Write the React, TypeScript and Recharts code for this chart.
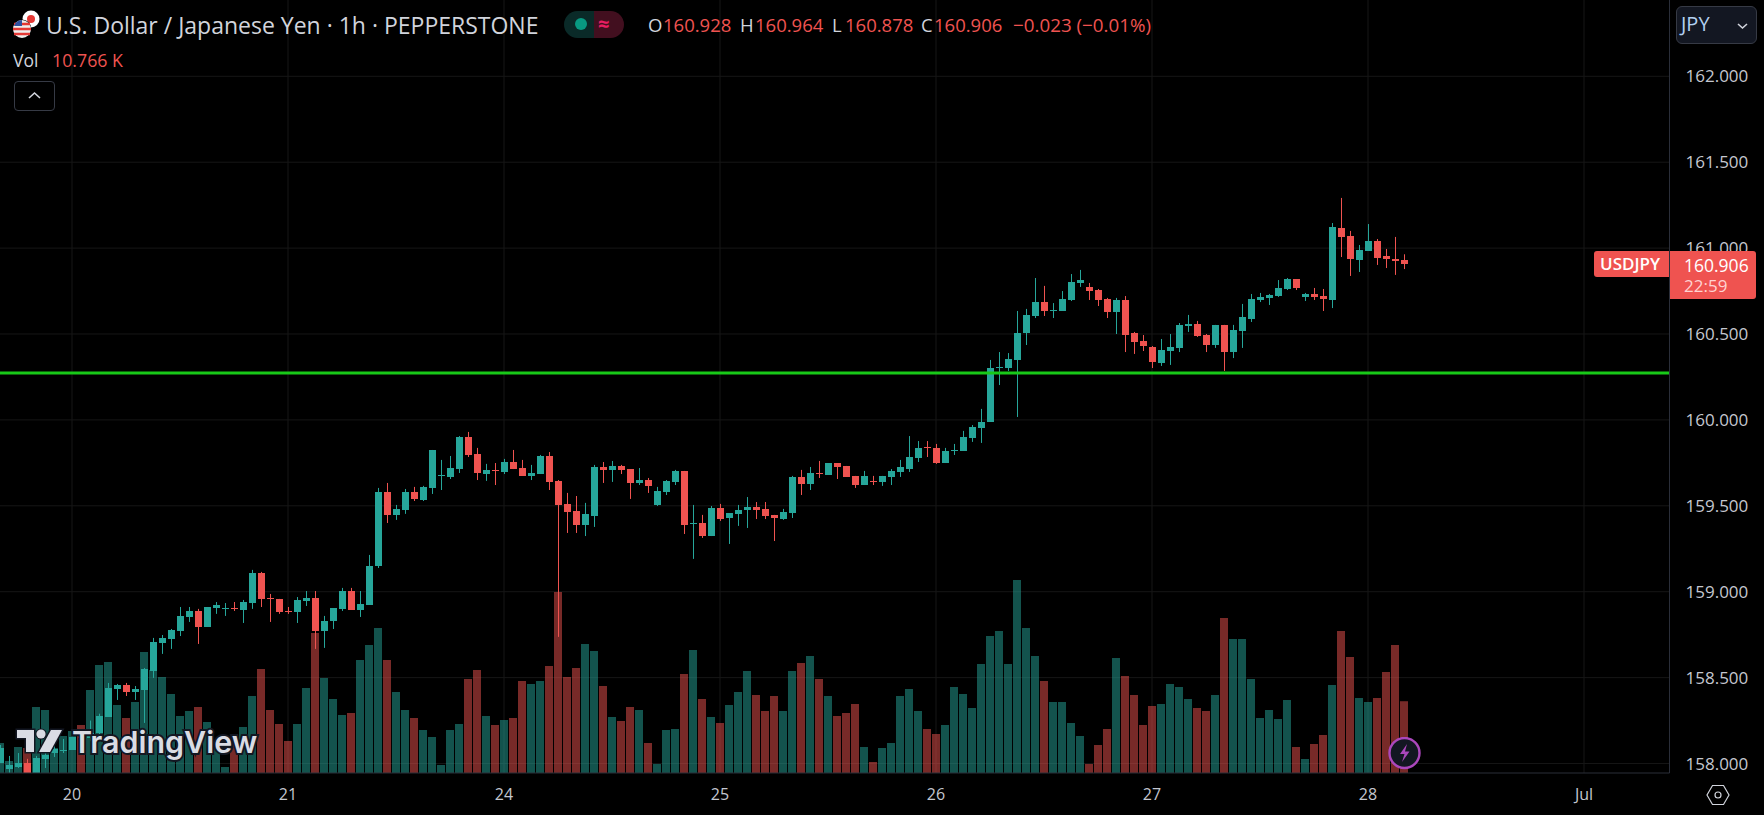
import { Bar, CartesianGrid, ComposedChart, ReferenceLine, XAxis, YAxis } from "recharts";

const opens = [
  158.003, 157.968, 157.98, 158.003, 157.945, 158.027, 158.061, 158.076,
  158.079, 158.175, 158.15, 158.178, 158.271, 158.434, 158.457, 158.417,
  158.428, 158.539, 158.702, 158.725, 158.772, 158.853, 158.888, 158.795,
  158.905, 158.904, 158.906, 158.894, 158.934, 159.109, 158.964, 158.958,
  158.888, 158.882, 158.946, 158.964, 158.772, 158.83, 158.9, 159.004,
  158.894, 158.923, 159.15, 159.581, 159.447, 159.476, 159.581, 159.534,
  159.604, 159.678, 159.668, 159.714, 159.901, 159.802, 159.685, 159.708,
  159.697, 159.755, 159.72, 159.674, 159.685, 159.79, 159.645, 159.511,
  159.47, 159.389, 159.441, 159.726, 159.709, 159.732, 159.714, 159.633,
  159.65, 159.505, 159.581, 159.639, 159.703, 159.398, 159.4, 159.324,
  159.487, 159.429, 159.453, 159.476, 159.493, 159.482, 159.447, 159.423,
  159.458, 159.668, 159.627, 159.691, 159.68, 159.749, 159.732, 159.674,
  159.621, 159.647, 159.639, 159.668, 159.697, 159.714, 159.778, 159.843,
  159.837, 159.749, 159.823, 159.819, 159.895, 159.953, 159.988, 160.305,
  160.302, 160.349, 160.506, 160.605, 160.686, 160.637, 160.634, 160.698,
  160.797, 160.774, 160.756, 160.704, 160.628, 160.698, 160.506, 160.459,
  160.425, 160.331, 160.401, 160.419, 160.547, 160.558, 160.494, 160.436,
  160.553, 160.395, 160.518, 160.587, 160.698, 160.71, 160.721, 160.762,
  160.82, 160.716, 160.733, 160.721, 160.698, 161.117, 161.07, 160.931,
  160.983, 161.041, 160.954, 160.937, 160.928,
];

const highs = [
  158.108, 158.044, 158.061, 158.027, 158.044, 158.061, 158.108, 158.143,
  158.155, 158.2, 158.25, 158.29, 158.469, 158.463, 158.469, 158.451,
  158.556, 158.731, 158.748, 158.783, 158.911, 158.911, 158.9, 158.911,
  158.94, 158.934, 158.94, 158.952, 159.127, 159.115, 158.987, 158.958,
  158.911, 158.969, 159.004, 159.004, 158.859, 158.905, 159.022, 159.022,
  159.004, 159.214, 159.604, 159.633, 159.505, 159.598, 159.61, 159.616,
  159.825, 159.767, 159.79, 159.906, 159.93, 159.837, 159.744, 159.749,
  159.773, 159.825, 159.767, 159.738, 159.796, 159.813, 159.65, 159.575,
  159.557, 159.517, 159.738, 159.755, 159.761, 159.738, 159.714, 159.72,
  159.662, 159.61, 159.65, 159.709, 159.703, 159.505, 159.447, 159.499,
  159.511, 159.458, 159.505, 159.551, 159.522, 159.522, 159.447, 159.482,
  159.674, 159.709, 159.726, 159.761, 159.749, 159.749, 159.732, 159.674,
  159.703, 159.674, 159.674, 159.714, 159.767, 159.906, 159.877, 159.877,
  159.86, 159.837, 159.86, 159.936, 159.97, 160.064, 160.349, 160.395,
  160.389, 160.634, 160.646, 160.826, 160.78, 160.68, 160.75, 160.849,
  160.873, 160.797, 160.762, 160.71, 160.71, 160.721, 160.512, 160.494,
  160.43, 160.471, 160.5, 160.564, 160.611, 160.576, 160.5, 160.553,
  160.553, 160.553, 160.675, 160.733, 160.739, 160.733, 160.814, 160.826,
  160.82, 160.739, 160.768, 160.762, 161.146, 161.292, 161.1, 161.018,
  161.14, 161.053, 160.995, 161.065, 160.964,
];

const lows = [
  158.003, 157.945, 157.974, 157.945, 157.945, 157.974, 158.038, 158.061,
  158.079, 158.13, 158.13, 158.16, 158.271, 158.37, 158.393, 158.37,
  158.236, 158.498, 158.638, 158.667, 158.742, 158.824, 158.696, 158.795,
  158.871, 158.859, 158.888, 158.818, 158.9, 158.911, 158.824, 158.871,
  158.871, 158.818, 158.917, 158.667, 158.673, 158.783, 158.888, 158.894,
  158.853, 158.923, 159.138, 159.4, 159.418, 159.453, 159.528, 159.528,
  159.569, 159.592, 159.656, 159.691, 159.784, 159.65, 159.645, 159.621,
  159.685, 159.714, 159.674, 159.65, 159.685, 159.592, 158.737, 159.342,
  159.342, 159.324, 159.377, 159.633, 159.639, 159.685, 159.54, 159.621,
  159.575, 159.499, 159.563, 159.621, 159.336, 159.191, 159.313, 159.324,
  159.412, 159.278, 159.383, 159.371, 159.423, 159.423, 159.295, 159.418,
  159.429, 159.563, 159.592, 159.662, 159.68, 159.656, 159.668, 159.604,
  159.621, 159.621, 159.616, 159.621, 159.668, 159.697, 159.755, 159.784,
  159.744, 159.749, 159.796, 159.819, 159.872, 159.866, 159.988, 160.203,
  160.285, 160.017, 160.436, 160.593, 160.605, 160.593, 160.634, 160.692,
  160.774, 160.698, 160.663, 160.593, 160.5, 160.395, 160.384, 160.401,
  160.302, 160.314, 160.32, 160.395, 160.512, 160.483, 160.395, 160.419,
  160.285, 160.36, 160.419, 160.57, 160.686, 160.669, 160.716, 160.756,
  160.756, 160.692, 160.698, 160.634, 160.651, 160.948, 160.838, 160.861,
  160.983, 160.902, 160.884, 160.844, 160.878,
];

const closes = [
  158.091, 157.992, 158.003, 157.945, 158.032, 158.05, 158.085, 158.079,
  158.155, 158.15, 158.178, 158.277, 158.44, 158.457, 158.417, 158.434,
  158.551, 158.708, 158.731, 158.777, 158.859, 158.888, 158.795, 158.911,
  158.923, 158.906, 158.904, 158.94, 159.109, 158.958, 158.961, 158.882,
  158.886, 158.952, 158.964, 158.772, 158.83, 158.905, 159.004, 158.894,
  158.929, 159.15, 159.581, 159.447, 159.482, 159.581, 159.54, 159.61,
  159.825, 159.68, 159.72, 159.901, 159.796, 159.691, 159.709, 159.705,
  159.755, 159.714, 159.674, 159.691, 159.79, 159.639, 159.505, 159.464,
  159.389, 159.453, 159.726, 159.709, 159.732, 159.709, 159.633, 159.65,
  159.616, 159.586, 159.645, 159.703, 159.389, 159.4, 159.324, 159.487,
  159.423, 159.458, 159.476, 159.493, 159.476, 159.441, 159.429, 159.464,
  159.668, 159.627, 159.691, 159.689, 159.749, 159.726, 159.668, 159.621,
  159.674, 159.645, 159.674, 159.703, 159.726, 159.784, 159.837, 159.84,
  159.749, 159.819, 159.825, 159.901, 159.959, 159.988, 160.302, 160.308,
  160.355, 160.506, 160.611, 160.686, 160.634, 160.64, 160.704, 160.803,
  160.814, 160.75, 160.698, 160.628, 160.698, 160.494, 160.454, 160.43,
  160.337, 160.407, 160.425, 160.553, 160.558, 160.488, 160.436, 160.553,
  160.395, 160.523, 160.599, 160.704, 160.716, 160.727, 160.768, 160.82,
  160.768, 160.733, 160.716, 160.704, 161.123, 161.065, 160.937, 160.989,
  161.041, 160.942, 160.937, 160.925, 160.906,
];

// volume in thousands
const volumes = [
  4.5, 1.8, 3.9, 3.75, 9.9, 9.45, 3.75, 5.55, 6.3, 7.2, 12.45, 16.2, 16.65, 10.2, 8.25, 10.65,
  18.15, 15.45, 14.4, 11.85, 8.55, 9.3, 9.9, 7.65, 4.8, 0.9, 4.95, 6.9, 11.55, 15.6, 9.45, 7.35,
  4.8, 7.35, 12.75, 21, 14.25, 11.1, 8.7, 9, 16.95, 19.2, 21.75, 16.95, 12.15, 9.45, 8.25, 6.45,
  5.4, 1.2, 6.45, 7.35, 14.1, 15.45, 8.55, 7.2, 7.95, 8.25, 13.8, 13.35, 13.8, 16.05, 27.15, 14.4,
  15.75, 19.35, 18.3, 13.05, 8.4, 7.8, 9.9, 9.45, 4.5, 1.35, 6.45, 6.6, 14.85, 18.45, 11.1, 8.4,
  7.5, 10.2, 12.15, 15.3, 11.7, 9.3, 11.55, 9.3, 15.3, 16.5, 17.55, 14.1, 11.55, 8.55, 9, 10.35,
  3.9, 1.65, 3.75, 4.5, 11.55, 12.6, 9.3, 6.6, 5.85, 7.2, 12.9, 11.85, 9.75, 16.35, 20.55, 21.3,
  16.35, 28.95, 21.75, 17.55, 13.8, 10.65, 10.65, 7.5, 5.55, 1.35, 4.2, 6.6, 17.25, 14.55, 11.7, 7.2,
  10.05, 10.35, 13.35, 12.9, 11.1, 9.75, 9.3, 11.7, 23.25, 20.1, 20.1, 14.1, 8.25, 9.45, 8.1, 10.95,
  3.9, 2.1, 4.35, 5.7, 13.2, 21.3, 17.4, 11.25, 10.65, 11.25, 15.15, 19.2, 10.766,
];

const priceTicks = [158, 158.5, 159, 159.5, 160, 160.5, 161, 161.5, 162];
const dayTicks = [8, 32, 56, 80, 104, 128, 152, 176];
const dayLabels = ["20", "21", "24", "25", "26", "27", "28", "Jul"];
const TOTAL_SLOTS = 186;
const LEVEL = 160.273;

const UP = "#26a69a";
const DOWN = "#ef5350";
const FONT = "'Open Sans', sans-serif";

const data = Array.from({ length: TOTAL_SLOTS }, (_, i) =>
  i < opens.length
    ? { i, open: opens[i], high: highs[i], low: lows[i], close: closes[i], volume: volumes[i] }
    : { i },
);

const Candle = (props: any) => {
  const { x, y, width, height, payload } = props;
  if (payload.open === undefined) return null;
  const { open, high, low, close } = payload;
  const unit = height / (high - low);
  const color = close >= open ? UP : DOWN;
  const center = Math.floor(x + width / 2 + 0.01);
  const top = Math.round(y + (high - Math.max(open, close)) * unit);
  const bottom = Math.round(y + (high - Math.min(open, close)) * unit);
  return (
    <g>
      <rect x={center} y={y} width={1} height={height} fill={color} />
      <rect x={center - 3} y={top} width={7} height={Math.max(bottom - top, 1)} fill={color} />
    </g>
  );
};

const VolumeBar = (props: any) => {
  const { x, y, width, height, payload } = props;
  if (payload.volume === undefined) return null;
  const center = Math.floor(x + width / 2 + 0.01);
  return (
    <rect
      x={center - 4}
      y={y}
      width={8}
      height={height}
      fill={payload.close >= payload.open ? UP : DOWN}
      fillOpacity={0.5}
    />
  );
};

const text = (left: number, top: number, color: string, size: number, extra: any = {}) => ({
  position: "absolute" as const,
  left,
  top,
  color,
  fontSize: size,
  lineHeight: "20px",
  whiteSpace: "nowrap" as const,
  ...extra,
});

const Header = () => (
  <>
    <svg style={{ position: "absolute", left: 0, top: 0 }} width={60} height={50}>
      <circle cx={31} cy={19} r={8.5} fill="#fff" />
      <circle cx={31} cy={19} r={4} fill="#e53935" />
      <circle cx={22} cy={29} r={9.5} fill="#000" />
      <circle cx={22} cy={29} r={9} fill="#eee" />
      <path d="M14 24h16M13 29h18M14 34h16" stroke="#e53935" strokeWidth={2.5} />
      <path d="M22 20a9 9 0 0 0-8 6h8z" fill="#2e4f9e" />
    </svg>
    <div style={text(46, 15, "#d1d4dc", 23)}>U.S. Dollar / Japanese Yen · 1h · PEPPERSTONE</div>
    <div style={{ position: "absolute", left: 564, top: 11, width: 30, height: 27, background: "#0a2a28", borderRadius: "14px 0 0 14px" }} />
    <div style={{ position: "absolute", left: 594, top: 11, width: 30, height: 27, background: "#420f1f", borderRadius: "0 14px 14px 0" }} />
    <div style={{ position: "absolute", left: 575, top: 18, width: 12, height: 12, background: "#089981", borderRadius: 6 }} />
    <div style={text(598, 14, "#e91e63", 20, { fontWeight: 700 })}>≈</div>
    <div style={text(648, 15, "#d1d4dc", 18.5)}>O</div>
    <div style={text(663, 15, DOWN, 18.5)}>160.928</div>
    <div style={text(740, 15, "#d1d4dc", 18.5)}>H</div>
    <div style={text(755, 15, DOWN, 18.5)}>160.964</div>
    <div style={text(832, 15, "#d1d4dc", 18.5)}>L</div>
    <div style={text(845, 15, DOWN, 18.5)}>160.878</div>
    <div style={text(921, 15, "#d1d4dc", 18.5)}>C</div>
    <div style={text(934, 15, DOWN, 18.5)}>160.906</div>
    <div style={text(1013, 15, DOWN, 18.8)}>−0.023 (−0.01%)</div>
    <div style={text(13, 50, "#d1d4dc", 17.5)}>Vol</div>
    <div style={text(52, 50, DOWN, 17.8)}>10.766 K</div>
    <div style={{ position: "absolute", left: 14, top: 81, width: 41, height: 30, boxSizing: "border-box", border: "1px solid #363a45", borderRadius: 4 }}>
      <svg width={39} height={28}>
        <path d="M14 16l5.5-5 5.5 5" fill="none" stroke="#d1d4dc" strokeWidth={1.6} />
      </svg>
    </div>
  </>
);

const RightScale = () => (
  <>
    <div style={{ position: "absolute", left: 1676, top: 6, width: 81, height: 38, boxSizing: "border-box", background: "#131722", border: "1px solid #363a45", borderRadius: 6 }}>
      <svg style={{ position: "absolute", left: 58, top: 12 }} width={18} height={14}>
        <path d="M3 5l4.5 4 4.5-4" fill="none" stroke="#d1d4dc" strokeWidth={1.6} />
      </svg>
    </div>
    <div style={text(1681, 14, "#b2d0f0", 20)}>JPY</div>
    <div style={{ position: "absolute", left: 1594, top: 251, width: 75, height: 26, background: DOWN, borderRadius: "3px 0 0 3px" }} />
    <div style={text(1600, 254, "#fff", 17, { fontWeight: 600 })}>USDJPY</div>
    <div style={{ position: "absolute", left: 1670, top: 251, width: 86, height: 48, background: DOWN, borderRadius: "0 3px 3px 0" }} />
    <div style={text(1684, 255, "#fff", 17.5, { fontWeight: 500 })}>160.906</div>
    <div style={text(1684, 276, "#ffd2d0", 17)}>22:59</div>
    <svg style={{ position: "absolute", left: 1704, top: 780 }} width={30} height={30}>
      <path d="M8.5 5.5h11L25 15l-5.5 9.5h-11L3 15z" fill="none" stroke="#d1d4dc" strokeWidth={1.2} />
      <circle cx={14} cy={15} r={3} fill="none" stroke="#d1d4dc" strokeWidth={1.2} />
    </svg>
  </>
);

const Watermark = () => (
  <>
    <svg style={{ position: "absolute", left: 12, top: 724 }} width={54} height={34}>
      <path d="M5 6h17v22h-8v-14h-9z" fill="#dadce4" stroke="#131722" strokeWidth={3} paintOrder="stroke" />
      <circle cx={29} cy={10} r={4.6} fill="#dadce4" stroke="#131722" strokeWidth={2} paintOrder="stroke" />
      <path d="M39 6h11l-12 22h-11z" fill="#dadce4" stroke="#131722" strokeWidth={3} paintOrder="stroke" />
    </svg>
    <svg style={{ position: "absolute", left: 66, top: 720 }} width={200} height={50}>
      <text x={6} y={33} fontFamily="Inter, sans-serif" fontWeight={600} fontSize={30.4} fill="#dadce4" stroke="#131722" strokeWidth={4} paintOrder="stroke">
        TradingView
      </text>
    </svg>
    <svg style={{ position: "absolute", left: 1388, top: 737 }} width={34} height={34}>
      <circle cx={16.5} cy={16} r={15} fill="#131722" stroke="#ab47bc" strokeWidth={2.4} />
      <path d="M19 7l-7 10h4.5l-2.5 8 7.5-10.5h-4.5z" fill="#ab47bc" />
    </svg>
  </>
);

export default function App() {
  return (
    <div style={{ position: "relative", width: 1764, height: 815, background: "#000", overflow: "hidden", fontFamily: FONT }}>
      <style>{"body{margin:0;background:#000}"}</style>
      <ComposedChart
        width={1764}
        height={815}
        data={data}
        margin={{ top: 0, right: 0, bottom: 0, left: -4.5 }}
        barCategoryGap={0}
        barGap="-100%"
      >
        <CartesianGrid yAxisId="price" stroke="#161616" syncWithTicks />
        <XAxis
          dataKey="i"
          type="category"
          ticks={dayTicks}
          interval={0}
          height={42}
          tickLine={false}
          axisLine={{ stroke: "#2a2e39" }}
          tickMargin={10}
          tickFormatter={(v: number) => dayLabels[dayTicks.indexOf(v)]}
          tick={{ fill: "#c4c7cf", fontSize: 16, fontFamily: FONT }}
        />
        <YAxis
          yAxisId="price"
          orientation="right"
          width={94.5}
          domain={[157.9447, 162.4441]}
          allowDataOverflow
          ticks={priceTicks}
          interval={0}
          tickLine={false}
          axisLine={{ stroke: "#2a2e39" }}
          tickMargin={10}
          tickFormatter={(v: number) => v.toFixed(3)}
          tick={{ fill: "#c4c7cf", fontSize: 17, fontFamily: FONT }}
        />
        <YAxis yAxisId="volume" hide domain={[0, 115.95]} allowDataOverflow />
        <Bar yAxisId="volume" dataKey="volume" isAnimationActive={false} shape={VolumeBar} />
        <Bar
          yAxisId="price"
          dataKey={(d: any) => (d.open === undefined ? null : [d.low, d.high])}
          isAnimationActive={false}
          shape={Candle}
        />
        <ReferenceLine yAxisId="price" y={LEVEL} stroke="#18c918" strokeWidth={3} />
      </ComposedChart>
      <Header />
      <RightScale />
      <Watermark />
    </div>
  );
}
